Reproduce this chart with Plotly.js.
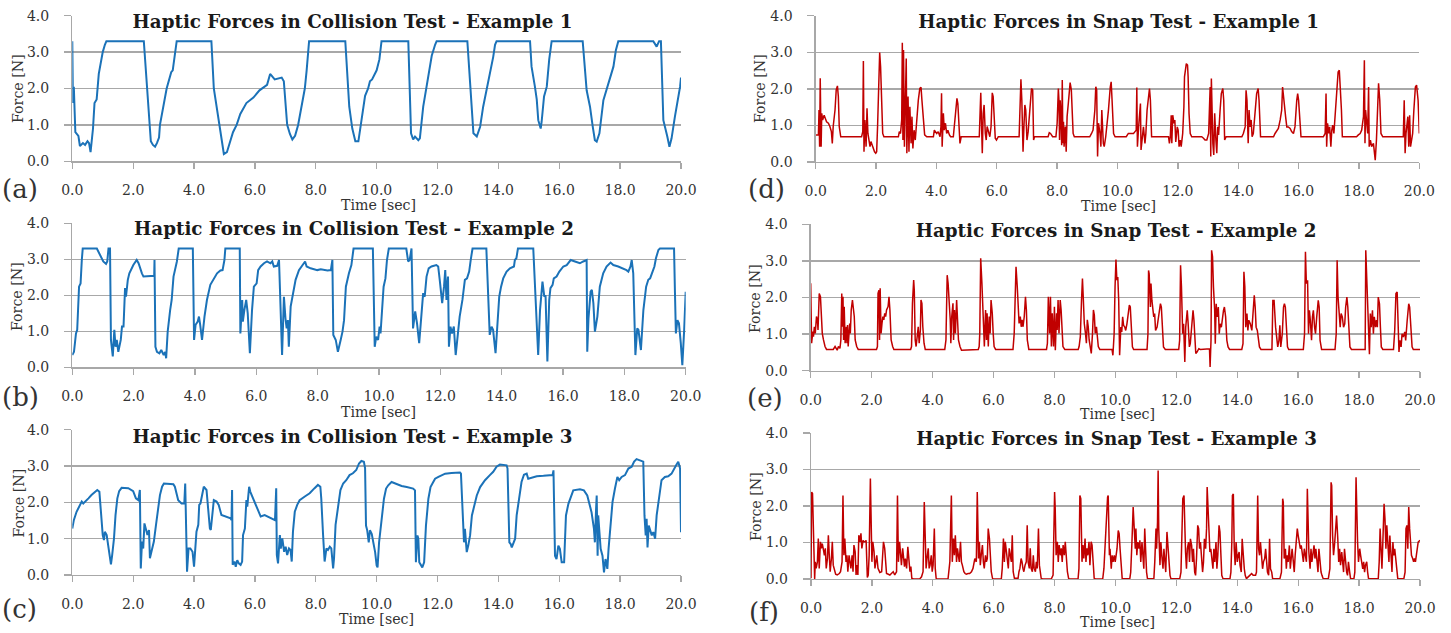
<!DOCTYPE html>
<html>
<head>
<meta charset="utf-8">
<script src="https://cdn.plot.ly/plotly-3.0.1.min.js"></script>
<style>html,body{margin:0;padding:0;background:#fff;}#chart{width:1451px;height:633px;}</style>
</head>
<body>
<div id="chart"></div>
<script>
// ---- tick labels ----
const xTickValues = [0, 2, 4, 6, 8, 10, 12, 14, 16, 18, 20];
const xTickLabels = ['0.0','2.0','4.0','6.0','8.0','10.0','12.0','14.0','16.0','18.0','20.0'];
const yTickValues = [0, 1, 2, 3, 4];
const yTickLabels = ['0.0','1.0','2.0','3.0','4.0'];

// ---- panel texts ----
const panelTitles = [
  'Haptic Forces in Collision Test - Example 1',
  'Haptic Forces in Collision Test - Example 2',
  'Haptic Forces in Collision Test - Example 3',
  'Haptic Forces in Snap Test - Example 1',
  'Haptic Forces in Snap Test - Example 2',
  'Haptic Forces in Snap Test - Example 3'
];
const panelLetters = ['(a)','(b)','(c)','(d)','(e)','(f)'];
const xTitle = 'Time [sec]';
const yTitle = 'Force [N]';

// ---- series: [time (sec), force (N)] ----
const collisionExample1 = [[0,3.3],[0.02,1.6],[0.05,2.05],[0.1,0.8],[0.2,0.7],[0.25,0.42],[0.35,0.5],[0.42,0.45],[0.5,0.55],[0.55,0.5],[0.6,0.25],[0.68,0.9],[0.73,1.6],[0.8,1.7],[0.87,2.4],[0.95,2.85],[1.0,3.0],[1.07,3.2],[1.12,3.3],[2.35,3.3],[2.45,2.0],[2.52,1.3],[2.58,0.55],[2.65,0.45],[2.72,0.4],[2.78,0.5],[2.85,0.65],[2.88,1.0],[3.0,1.5],[3.1,2.0],[3.25,2.45],[3.3,2.5],[3.43,3.3],[4.57,3.3],[4.65,2.0],[4.78,1.3],[4.9,0.6],[4.98,0.2],[5.08,0.25],[5.18,0.55],[5.28,0.8],[5.4,1.0],[5.52,1.3],[5.72,1.6],[5.95,1.75],[6.15,1.95],[6.32,2.05],[6.4,2.1],[6.5,2.4],[6.65,2.25],[6.88,2.3],[6.95,2.2],[7.06,1.0],[7.15,0.75],[7.23,0.6],[7.32,0.7],[7.42,1.0],[7.53,1.5],[7.64,2.0],[7.7,2.5],[7.78,3.3],[8.97,3.3],[9.1,1.5],[9.2,0.9],[9.3,0.55],[9.4,0.55],[9.48,1.0],[9.55,1.4],[9.62,1.8],[9.72,2.0],[9.78,2.2],[9.85,2.25],[10.0,2.5],[10.09,2.8],[10.16,3.3],[11.04,3.3],[11.13,0.77],[11.2,0.6],[11.26,0.68],[11.37,0.58],[11.42,0.63],[11.53,1.5],[11.64,2.05],[11.7,2.4],[11.81,2.9],[11.92,3.2],[11.97,3.3],[12.98,3.3],[13.12,1.3],[13.18,0.77],[13.29,0.68],[13.4,0.95],[13.5,1.5],[13.61,1.95],[13.72,2.35],[13.83,2.87],[13.89,3.2],[13.94,3.3],[15.04,3.3],[15.09,2.6],[15.2,2.05],[15.26,1.7],[15.31,1.13],[15.39,0.9],[15.42,1.08],[15.5,1.78],[15.59,2.05],[15.67,2.8],[15.75,3.3],[16.77,3.3],[16.9,1.95],[17.01,1.5],[17.1,0.95],[17.17,0.58],[17.23,0.54],[17.32,0.77],[17.45,1.68],[17.58,2.05],[17.69,2.33],[17.78,2.6],[17.86,3.05],[17.94,3.3],[19.09,3.3],[19.2,3.15],[19.28,3.3],[19.34,3.3],[19.42,1.13],[19.51,0.86],[19.55,0.68],[19.62,0.4],[19.69,0.63],[19.8,1.23],[19.86,1.5],[19.97,2.05],[20.0,2.3]];

const collisionExample2 = [[0,0.34],[0.055,0.43],[0.12,0.94],[0.16,1.04],[0.22,2.24],[0.27,2.33],[0.31,2.98],[0.34,3.3],[0.8,3.3],[0.9,3.12],[1.01,2.94],[1.1,2.87],[1.14,2.94],[1.18,3.3],[1.23,3.3],[1.26,0.76],[1.32,0.3],[1.37,1.04],[1.41,0.57],[1.45,0.76],[1.5,0.43],[1.58,0.76],[1.62,1.13],[1.67,1.13],[1.72,2.2],[1.75,1.96],[1.81,2.43],[1.86,2.61],[1.91,2.7],[1.99,2.84],[2.1,2.98],[2.16,2.89],[2.27,2.61],[2.32,2.52],[2.67,2.54],[2.68,2.98],[2.71,0.57],[2.76,0.43],[2.84,0.39],[2.9,0.48],[2.98,0.34],[3.03,0.43],[3.06,0.25],[3.11,0.99],[3.19,1.59],[3.24,1.87],[3.3,2.52],[3.36,2.75],[3.41,2.94],[3.47,3.3],[3.93,3.3],[3.97,0.76],[4.02,1.18],[4.09,1.27],[4.13,1.41],[4.17,1.18],[4.23,0.76],[4.31,1.41],[4.39,1.87],[4.5,2.29],[4.61,2.47],[4.72,2.61],[4.83,2.69],[4.9,2.7],[4.96,2.98],[4.99,3.3],[5.46,3.3],[5.48,0.94],[5.54,1.87],[5.56,1.27],[5.61,1.59],[5.67,1.87],[5.72,1.5],[5.79,0.39],[5.86,1.59],[5.92,2.24],[6.01,2.33],[6.06,2.7],[6.14,2.8],[6.25,2.89],[6.35,2.94],[6.46,2.89],[6.52,2.94],[6.57,2.8],[6.68,2.82],[6.74,2.98],[6.84,0.34],[6.9,1.96],[6.95,1.36],[6.99,1.08],[7.03,1.31],[7.06,0.57],[7.12,1.69],[7.2,2.1],[7.28,2.43],[7.39,2.7],[7.5,2.84],[7.59,2.94],[7.64,2.8],[7.77,2.75],[7.99,2.7],[8.1,2.72],[8.32,2.69],[8.43,2.7],[8.48,2.98],[8.51,0.9],[8.59,0.76],[8.66,0.43],[8.75,0.76],[8.81,0.99],[8.86,1.31],[8.92,2.24],[9.02,2.61],[9.1,2.84],[9.17,3.3],[9.8,3.3],[9.86,0.57],[9.91,0.85],[9.97,0.76],[10.02,1.13],[10.05,0.94],[10.11,1.59],[10.15,2.24],[10.21,2.47],[10.26,2.98],[10.32,3.3],[10.89,3.3],[10.95,2.94],[11.0,2.98],[11.06,3.3],[11.11,1.08],[11.18,1.55],[11.24,1.22],[11.31,0.67],[11.38,1.59],[11.44,2.06],[11.49,1.96],[11.55,2.52],[11.62,2.75],[11.71,2.8],[11.87,2.84],[11.93,2.8],[11.98,2.43],[12.06,1.78],[12.12,2.24],[12.16,2.7],[12.2,1.87],[12.25,2.52],[12.28,0.57],[12.33,1.13],[12.38,0.94],[12.44,1.13],[12.5,0.34],[12.58,1.13],[12.63,1.41],[12.72,1.87],[12.8,2.43],[12.87,2.47],[12.94,2.66],[12.99,2.98],[13.05,3.3],[13.5,3.3],[13.56,1.87],[13.61,0.9],[13.67,1.13],[13.72,1.04],[13.8,0.39],[13.85,1.13],[13.92,1.96],[13.98,2.24],[14.05,2.47],[14.16,2.66],[14.27,2.75],[14.4,2.8],[14.43,2.98],[14.48,3.03],[14.53,3.3],[15.03,3.3],[15.19,0.34],[15.25,1.59],[15.33,2.38],[15.39,1.96],[15.43,2.0],[15.49,0.16],[15.55,1.87],[15.59,2.2],[15.66,2.29],[15.7,2.47],[15.79,2.52],[15.88,2.66],[16.01,2.8],[16.12,2.84],[16.25,2.98],[16.39,2.94],[16.55,2.89],[16.66,2.94],[16.77,2.98],[16.79,0.43],[16.83,1.36],[16.9,2.1],[16.94,2.15],[16.99,1.78],[17.04,0.99],[17.12,1.41],[17.2,2.24],[17.31,2.61],[17.42,2.8],[17.55,2.91],[17.64,2.84],[17.8,2.8],[17.97,2.75],[18.07,2.7],[18.13,2.66],[18.2,2.8],[18.24,2.98],[18.29,2.61],[18.36,0.34],[18.42,1.08],[18.46,1.04],[18.54,0.48],[18.62,1.59],[18.71,2.24],[18.78,2.43],[18.84,2.47],[18.92,2.66],[18.98,2.8],[19.03,3.03],[19.11,3.26],[19.16,3.3],[19.62,3.3],[19.65,2.06],[19.68,0.94],[19.73,1.31],[19.78,1.22],[19.84,0.67],[19.89,0.06],[19.95,1.04],[20.0,2.1]];

const collisionExample3 = [[0,1.28],[0.05,1.51],[0.14,1.74],[0.25,1.94],[0.31,2.02],[0.36,1.97],[0.45,2.06],[0.53,2.11],[0.63,2.2],[0.74,2.28],[0.82,2.34],[0.89,2.29],[0.94,1.74],[1.0,1.1],[1.04,0.96],[1.07,1.19],[1.13,1.1],[1.18,0.83],[1.24,0.55],[1.27,0.29],[1.31,0.55],[1.37,1.01],[1.42,1.65],[1.48,2.11],[1.54,2.31],[1.62,2.4],[1.84,2.39],[2.0,2.31],[2.09,2.11],[2.17,2.06],[2.22,2.34],[2.25,0.18],[2.29,0.92],[2.33,0.73],[2.37,1.42],[2.42,1.24],[2.47,1.1],[2.52,1.24],[2.55,0.46],[2.6,0.64],[2.68,0.92],[2.75,1.38],[2.82,1.83],[2.88,2.2],[2.95,2.43],[3.01,2.52],[3.32,2.5],[3.37,2.43],[3.48,2.06],[3.59,1.97],[3.68,1.97],[3.71,2.52],[3.77,0.09],[3.82,0.73],[3.88,0.73],[3.95,0.64],[4.0,0.23],[4.08,1.19],[4.14,1.38],[4.17,1.93],[4.21,1.97],[4.28,2.29],[4.32,2.43],[4.41,2.34],[4.46,1.93],[4.52,1.28],[4.55,1.24],[4.6,1.65],[4.65,2.06],[4.74,2.02],[4.81,1.93],[4.9,1.65],[5.01,1.61],[5.2,1.56],[5.23,1.51],[5.25,2.34],[5.27,0.28],[5.33,0.37],[5.37,0.23],[5.42,0.41],[5.47,0.32],[5.53,0.28],[5.58,0.37],[5.61,1.1],[5.67,1.28],[5.72,2.06],[5.75,1.88],[5.81,2.43],[5.85,2.29],[5.94,2.11],[6.05,1.88],[6.1,1.79],[6.19,1.61],[6.32,1.65],[6.43,1.61],[6.54,1.56],[6.66,1.51],[6.7,2.39],[6.72,0.55],[6.76,0.32],[6.82,1.1],[6.85,0.73],[6.9,1.01],[6.96,0.64],[7.01,0.78],[7.06,0.55],[7.12,0.73],[7.17,0.69],[7.21,0.37],[7.25,1.19],[7.31,1.74],[7.39,1.93],[7.47,2.06],[7.64,2.16],[7.8,2.25],[7.96,2.39],[8.07,2.48],[8.15,2.43],[8.18,2.11],[8.24,1.1],[8.29,0.37],[8.35,0.73],[8.4,0.69],[8.46,0.78],[8.51,0.73],[8.57,0.18],[8.6,0.46],[8.65,1.38],[8.73,1.93],[8.81,2.34],[8.9,2.52],[9.0,2.61],[9.11,2.75],[9.22,2.8],[9.33,2.89],[9.42,3.07],[9.5,3.14],[9.58,3.12],[9.62,2.94],[9.65,1.36],[9.69,1.23],[9.74,0.9],[9.78,1.23],[9.84,1.13],[9.89,0.9],[9.95,0.63],[10.0,0.26],[10.03,0.21],[10.08,0.9],[10.14,1.36],[10.2,1.82],[10.24,2.1],[10.31,2.38],[10.38,2.47],[10.49,2.56],[10.6,2.52],[10.71,2.49],[10.82,2.45],[10.99,2.42],[11.2,2.38],[11.26,2.33],[11.29,0.35],[11.34,1.09],[11.37,1.0],[11.4,0.35],[11.45,0.26],[11.5,0.21],[11.56,0.35],[11.62,1.36],[11.7,2.1],[11.77,2.42],[11.86,2.56],[11.92,2.65],[12.03,2.7],[12.14,2.75],[12.25,2.79],[12.46,2.81],[12.74,2.82],[12.77,2.79],[12.83,1.36],[12.87,0.9],[12.9,1.27],[12.96,0.63],[13.01,0.81],[13.07,1.09],[13.13,1.64],[13.2,1.92],[13.29,2.19],[13.4,2.42],[13.56,2.61],[13.72,2.75],[13.83,2.84],[13.94,2.98],[14.05,3.04],[14.27,3.02],[14.3,2.93],[14.36,0.9],[14.4,0.86],[14.44,0.76],[14.49,0.9],[14.55,1.0],[14.6,1.64],[14.69,2.19],[14.76,2.56],[14.84,2.76],[14.93,2.79],[14.98,2.65],[15.09,2.68],[15.26,2.72],[15.48,2.73],[15.64,2.75],[15.78,2.75],[15.81,2.88],[15.86,0.53],[15.91,0.44],[15.97,0.81],[16.02,0.72],[16.08,0.35],[16.16,0.35],[16.22,1.64],[16.3,1.96],[16.37,2.1],[16.46,2.33],[16.68,2.36],[16.81,2.33],[16.92,2.19],[16.99,1.92],[17.06,1.73],[17.14,1.27],[17.17,0.9],[17.21,1.82],[17.23,2.19],[17.26,0.53],[17.28,1.64],[17.32,1.18],[17.36,0.72],[17.42,0.53],[17.47,0.07],[17.52,0.44],[17.58,0.17],[17.62,0.72],[17.69,1.36],[17.75,2.01],[17.83,2.38],[17.91,2.7],[17.97,2.61],[18.05,2.7],[18.16,2.75],[18.27,2.93],[18.38,2.98],[18.46,3.12],[18.54,3.19],[18.67,3.16],[18.76,3.12],[18.8,1.64],[18.84,1.09],[18.87,1.55],[18.9,0.76],[18.94,1.36],[18.98,1.27],[19.04,1.09],[19.09,1.18],[19.15,1.0],[19.2,1.64],[19.26,2.06],[19.36,2.61],[19.47,2.7],[19.58,2.72],[19.69,2.79],[19.77,2.93],[19.84,3.02],[19.91,3.12],[19.97,2.93],[20.0,1.18]];

const snapExample1 = [[0,0.74],[0.09,0.74],[0.11,1.42],[0.13,0.42],[0.15,2.29],[0.18,0.42],[0.2,1.33],[0.23,1.15],[0.28,1.28],[0.32,1.15],[0.36,1.1],[0.42,1.06],[0.47,0.97],[0.52,0.83],[0.55,0.51],[0.58,0.97],[0.64,1.42],[0.68,1.97],[0.72,2.08],[0.75,1.79],[0.78,0.97],[0.83,0.69],[1.52,0.69],[1.56,0.83],[1.58,2.76],[1.6,0.28],[1.63,1.15],[1.67,0.42],[1.7,1.47],[1.73,0.78],[1.77,0.51],[1.8,0.42],[1.83,0.56],[1.88,0.42],[1.91,0.33],[1.95,0.28],[1.99,0.24],[2.02,0.28],[2.05,0.97],[2.09,2.6],[2.12,2.99],[2.15,2.6],[2.19,1.42],[2.22,0.78],[2.26,0.69],[2.74,0.69],[2.77,0.83],[2.81,0.78],[2.85,1.15],[2.87,3.26],[2.89,0.6],[2.91,3.06],[2.94,0.42],[2.97,1.69],[3.0,2.83],[3.02,0.24],[3.06,1.79],[3.09,0.28],[3.12,1.51],[3.16,0.51],[3.19,1.24],[3.22,0.37],[3.26,0.87],[3.3,0.6],[3.34,1.15],[3.4,1.69],[3.45,2.01],[3.49,2.04],[3.52,1.69],[3.57,0.97],[3.61,0.74],[3.68,0.69],[3.9,0.69],[3.93,0.87],[3.97,0.83],[4.01,0.78],[4.06,0.83],[4.12,0.69],[4.15,0.97],[4.17,1.88],[4.19,0.42],[4.23,1.33],[4.26,0.87],[4.3,1.06],[4.34,0.78],[4.38,0.87],[4.43,0.74],[4.47,0.69],[4.56,0.69],[4.59,0.97],[4.64,1.51],[4.68,1.74],[4.71,1.6],[4.75,0.97],[4.78,0.51],[4.82,0.69],[5.42,0.69],[5.45,1.42],[5.47,1.89],[5.5,0.87],[5.52,0.24],[5.55,1.33],[5.58,1.56],[5.62,0.78],[5.65,0.6],[5.68,0.97],[5.72,0.83],[5.77,0.69],[5.81,0.97],[5.85,1.89],[5.88,1.79],[5.92,0.97],[5.95,0.65],[5.99,0.6],[6.05,0.69],[6.74,0.69],[6.76,1.15],[6.8,2.26],[6.83,1.69],[6.87,0.28],[6.9,0.97],[6.93,1.56],[6.96,1.42],[7.0,0.6],[7.04,0.83],[7.1,1.42],[7.15,2.01],[7.19,1.97],[7.22,0.6],[7.25,0.69],[7.7,0.69],[7.74,0.8],[7.78,0.78],[7.85,0.69],[7.96,0.69],[8.0,1.06],[8.04,2.01],[8.06,1.69],[8.08,0.6],[8.1,1.69],[8.12,1.42],[8.15,0.46],[8.17,2.24],[8.19,0.51],[8.21,1.1],[8.23,0.42],[8.27,0.97],[8.3,0.28],[8.33,1.24],[8.37,1.6],[8.4,1.97],[8.43,2.17],[8.47,1.97],[8.5,1.42],[8.53,0.78],[8.57,0.69],[9.08,0.69],[9.14,0.78],[9.19,0.87],[9.25,1.42],[9.28,2.06],[9.31,1.97],[9.34,0.15],[9.37,1.06],[9.42,0.78],[9.45,0.42],[9.48,1.42],[9.53,0.51],[9.56,0.42],[9.61,0.69],[9.65,0.96],[9.7,1.42],[9.76,2.05],[9.79,2.19],[9.82,1.69],[9.87,0.78],[9.92,0.69],[10.29,0.69],[10.36,0.78],[10.53,0.78],[10.58,0.83],[10.62,0.87],[10.64,2.04],[10.66,0.42],[10.7,0.96],[10.73,1.24],[10.76,1.6],[10.78,0.33],[10.82,0.78],[10.86,0.96],[10.91,0.51],[10.94,0.78],[10.98,1.42],[11.03,1.92],[11.06,2.01],[11.09,1.69],[11.13,0.69],[11.69,0.69],[11.72,0.51],[11.75,0.69],[11.78,1.28],[11.8,0.51],[11.83,1.28],[11.87,1.06],[11.9,1.15],[11.93,0.55],[11.98,0.96],[12.01,0.87],[12.04,0.42],[12.08,0.6],[12.11,0.42],[12.16,0.78],[12.2,1.51],[12.22,2.33],[12.25,2.46],[12.28,2.69],[12.32,2.65],[12.34,2.33],[12.37,1.33],[12.41,0.78],[12.46,0.69],[12.79,0.69],[12.85,0.65],[12.9,0.6],[12.96,0.6],[12.99,0.74],[13.02,0.78],[13.07,2.05],[13.09,0.15],[13.11,2.28],[13.13,1.42],[13.16,0.51],[13.19,0.19],[13.22,1.33],[13.26,0.6],[13.29,0.24],[13.32,0.96],[13.35,0.74],[13.4,1.42],[13.44,1.87],[13.49,2.01],[13.52,1.69],[13.55,0.6],[13.6,0.69],[14.12,0.69],[14.17,0.78],[14.23,0.96],[14.26,1.96],[14.29,1.69],[14.33,0.51],[14.36,1.42],[14.39,0.96],[14.43,1.15],[14.46,0.69],[14.5,0.78],[14.56,1.42],[14.61,1.87],[14.66,2.01],[14.69,1.69],[14.74,0.69],[15.17,0.69],[15.22,0.78],[15.28,0.87],[15.33,0.92],[15.39,1.15],[15.44,1.42],[15.47,2.05],[15.51,1.78],[15.54,1.6],[15.57,1.24],[15.61,0.96],[15.66,0.96],[15.72,0.92],[15.77,0.83],[15.83,0.78],[15.88,0.96],[15.94,1.69],[15.97,1.87],[16.0,1.69],[16.05,0.96],[16.08,0.69],[16.82,0.69],[16.88,0.78],[16.91,1.87],[16.93,0.42],[16.96,1.06],[17.0,0.78],[17.03,0.96],[17.07,0.42],[17.1,0.87],[17.13,1.01],[17.17,0.78],[17.22,1.42],[17.26,2.05],[17.31,2.46],[17.35,2.51],[17.38,2.15],[17.42,1.42],[17.45,0.69],[17.92,0.69],[17.98,0.74],[18.04,0.78],[18.09,0.87],[18.15,1.24],[18.18,2.78],[18.2,0.51],[18.22,1.42],[18.26,0.96],[18.29,0.78],[18.32,2.05],[18.34,0.42],[18.38,0.6],[18.42,0.42],[18.48,0.51],[18.51,0.15],[18.54,0.05],[18.58,0.6],[18.62,1.42],[18.65,2.15],[18.69,1.69],[18.73,0.78],[18.79,0.69],[19.47,0.69],[19.5,1.69],[19.53,0.24],[19.56,0.78],[19.59,0.96],[19.62,1.24],[19.65,0.42],[19.68,1.28],[19.71,0.42],[19.75,0.69],[19.78,0.78],[19.82,1.42],[19.87,2.05],[19.91,2.1],[19.96,1.69],[20.0,0.78]];

const snapExample2 = [[0,2.39],[0.03,0.75],[0.07,1.07],[0.09,0.93],[0.12,1.2],[0.15,1.02],[0.19,1.48],[0.22,1.39],[0.24,1.11],[0.26,1.84],[0.28,2.11],[0.32,2.02],[0.35,1.66],[0.38,1.02],[0.42,0.84],[0.47,0.66],[0.52,0.58],[0.74,0.58],[0.8,0.66],[0.85,0.61],[0.87,0.56],[0.91,0.66],[0.96,0.61],[0.99,0.84],[1.02,2.11],[1.04,1.2],[1.06,2.02],[1.08,0.84],[1.1,1.75],[1.13,0.75],[1.15,1.02],[1.17,1.2],[1.19,0.75],[1.21,1.25],[1.23,0.66],[1.26,1.11],[1.28,1.29],[1.3,1.02],[1.33,1.66],[1.37,1.93],[1.4,1.66],[1.43,1.48],[1.46,0.84],[1.51,0.66],[1.56,0.58],[2.16,0.58],[2.19,0.66],[2.21,2.11],[2.24,2.2],[2.26,0.84],[2.28,2.25],[2.31,1.02],[2.34,1.29],[2.37,1.48],[2.4,1.39],[2.43,1.57],[2.46,1.48],[2.49,1.66],[2.54,1.75],[2.57,2.02],[2.6,1.66],[2.64,0.84],[2.69,0.66],[2.73,0.58],[3.28,0.58],[3.31,0.66],[3.34,1.84],[3.38,2.48],[3.4,2.2],[3.43,0.84],[3.46,0.66],[3.5,1.02],[3.53,1.2],[3.56,0.75],[3.6,1.11],[3.62,1.93],[3.65,1.84],[3.68,1.2],[3.72,0.75],[3.76,0.58],[4.4,0.58],[4.44,0.84],[4.46,1.75],[4.48,2.61],[4.51,2.39],[4.55,1.93],[4.58,1.39],[4.6,0.75],[4.63,1.48],[4.67,1.84],[4.69,0.84],[4.72,1.66],[4.75,1.02],[4.79,1.93],[4.82,1.2],[4.85,0.84],[4.9,0.66],[4.95,0.56],[5.5,0.58],[5.53,0.66],[5.55,1.02],[5.58,3.07],[5.62,2.39],[5.65,1.66],[5.67,1.02],[5.7,0.66],[5.74,1.66],[5.77,0.84],[5.79,1.57],[5.83,0.66],[5.86,1.48],[5.89,1.02],[5.92,1.93],[5.96,1.57],[5.99,1.02],[6.02,0.66],[6.07,0.58],[6.64,0.58],[6.68,1.02],[6.71,1.84],[6.74,2.84],[6.78,2.3],[6.81,1.84],[6.84,1.29],[6.88,1.48],[6.91,1.2],[6.94,1.39],[6.97,1.2],[7.01,1.48],[7.05,2.02],[7.08,1.66],[7.11,0.84],[7.16,0.58],[7.74,0.58],[7.77,0.75],[7.8,2.02],[7.84,1.02],[7.87,2.02],[7.9,0.66],[7.93,1.57],[7.97,0.66],[8.0,1.75],[8.03,0.56],[8.07,1.57],[8.09,1.11],[8.12,1.93],[8.15,1.02],[8.19,1.93],[8.22,1.66],[8.25,0.84],[8.28,0.66],[8.34,0.58],[8.78,0.58],[8.81,0.66],[8.85,0.93],[8.89,1.93],[8.92,2.52],[8.95,1.93],[8.98,1.29],[9.02,1.02],[9.05,0.75],[9.08,1.39],[9.11,1.2],[9.14,0.84],[9.21,0.47],[9.25,1.02],[9.28,1.66],[9.31,1.52],[9.34,1.02],[9.38,1.2],[9.41,0.84],[9.44,0.66],[9.49,0.58],[9.89,0.58],[9.92,0.42],[9.96,1.01],[9.99,2.29],[10.02,3.04],[10.05,2.47],[10.08,2.56],[10.11,1.92],[10.14,0.42],[10.18,1.19],[10.21,1.06],[10.24,1.47],[10.27,1.24],[10.31,1.19],[10.34,1.1],[10.38,1.28],[10.43,1.56],[10.46,1.79],[10.49,1.74],[10.52,1.19],[10.56,0.65],[10.6,0.58],[11.04,0.58],[11.07,1.01],[11.09,2.74],[11.11,2.65],[11.15,1.74],[11.17,2.38],[11.2,1.92],[11.23,1.65],[11.26,1.47],[11.29,1.56],[11.32,1.1],[11.37,1.19],[11.42,1.56],[11.48,1.83],[11.51,1.74],[11.54,1.19],[11.58,0.65],[11.64,0.58],[12.08,0.58],[12.11,0.83],[12.14,2.88],[12.17,2.29],[12.21,1.01],[12.24,1.28],[12.28,0.24],[12.31,1.19],[12.33,1.38],[12.36,1.65],[12.39,1.28],[12.43,0.65],[12.46,0.74],[12.51,1.38],[12.55,1.65],[12.58,1.38],[12.61,0.74],[12.64,0.47],[12.68,0.51],[12.74,0.6],[12.79,0.58],[13.06,0.58],[13.09,0.6],[13.11,0.1],[13.14,0.83],[13.16,3.29],[13.19,3.11],[13.22,2.29],[13.26,1.65],[13.28,0.74],[13.31,1.83],[13.34,1.47],[13.38,1.74],[13.41,1.01],[13.44,1.28],[13.48,1.19],[13.51,1.47],[13.55,1.65],[13.58,1.74],[13.62,1.47],[13.66,0.83],[13.7,0.65],[13.75,0.58],[14.15,0.58],[14.19,0.74],[14.22,2.7],[14.25,2.29],[14.28,1.19],[14.32,1.56],[14.35,1.1],[14.38,1.38],[14.43,1.28],[14.48,1.1],[14.51,1.38],[14.56,2.06],[14.59,1.74],[14.62,1.19],[14.66,1.1],[14.69,0.83],[14.73,0.65],[14.78,0.58],[15.14,0.58],[15.17,1.92],[15.21,1.92],[15.26,1.19],[15.3,0.92],[15.33,0.65],[15.37,0.83],[15.4,1.24],[15.43,0.65],[15.48,1.01],[15.52,1.74],[15.55,1.83],[15.58,1.74],[15.62,1.19],[15.65,0.65],[15.69,0.58],[16.17,0.58],[16.21,1.01],[16.24,3.25],[16.27,2.38],[16.31,2.47],[16.34,1.01],[16.37,1.65],[16.4,1.38],[16.44,0.83],[16.47,1.47],[16.5,1.65],[16.54,1.19],[16.57,1.01],[16.61,1.47],[16.66,1.92],[16.69,1.74],[16.72,0.83],[16.77,0.58],[17.21,0.58],[17.25,1.01],[17.28,3.02],[17.31,2.01],[17.35,1.38],[17.38,1.19],[17.41,1.56],[17.45,1.47],[17.49,1.19],[17.53,1.28],[17.56,1.74],[17.6,2.01],[17.63,1.74],[17.66,1.19],[17.7,0.65],[17.75,0.58],[18.2,0.58],[18.22,3.29],[18.25,2.47],[18.27,1.92],[18.31,1.01],[18.34,0.45],[18.37,1.56],[18.4,1.19],[18.44,1.65],[18.47,1.01],[18.5,1.47],[18.54,1.19],[18.57,1.38],[18.6,1.19],[18.63,2.01],[18.67,1.83],[18.7,1.19],[18.73,0.65],[18.78,0.58],[19.13,0.58],[19.17,1.1],[19.21,2.11],[19.25,2.15],[19.28,1.47],[19.31,0.51],[19.34,0.83],[19.38,0.65],[19.41,1.01],[19.45,0.92],[19.5,1.06],[19.53,0.83],[19.58,1.38],[19.63,1.83],[19.66,1.74],[19.69,1.19],[19.74,0.65],[19.78,0.58],[20.0,0.58]];

const snapExample3 = [[0,0.02],[0.02,2.38],[0.05,2.34],[0.08,1.38],[0.1,0.29],[0.12,0.0],[0.14,0.47],[0.17,0.29],[0.21,0.47],[0.24,1.11],[0.27,0.29],[0.31,1.02],[0.34,0.84],[0.37,0.97],[0.4,0.84],[0.44,0.65],[0.47,0.84],[0.5,0.29],[0.54,0.56],[0.57,1.2],[0.6,0.65],[0.63,0.2],[0.67,0.56],[0.7,1.02],[0.73,0.38],[0.77,0.2],[0.81,0.13],[0.86,0.11],[0.93,0.15],[0.97,0.2],[1.02,0.47],[1.05,2.29],[1.08,0.65],[1.11,1.11],[1.15,0.47],[1.18,0.65],[1.21,0.2],[1.25,0.65],[1.28,0.38],[1.31,0.29],[1.35,0.65],[1.38,0.2],[1.41,0.93],[1.45,0.75],[1.48,0.11],[1.51,0.38],[1.54,0.11],[1.57,1.2],[1.61,1.02],[1.64,1.25],[1.67,0.84],[1.71,1.06],[1.74,1.02],[1.78,1.02],[1.81,1.06],[1.85,0.04],[1.88,0.11],[1.91,0.65],[1.95,2.75],[1.97,1.75],[2.0,0.47],[2.03,1.02],[2.07,0.75],[2.1,0.29],[2.13,0.47],[2.16,0.65],[2.2,0.29],[2.23,0.2],[2.26,0.18],[2.32,0.2],[2.35,0.65],[2.38,1.02],[2.42,0.84],[2.45,0.29],[2.48,0.15],[2.54,0.13],[2.59,0.11],[2.64,0.15],[2.7,0.2],[2.75,0.11],[2.81,0.2],[2.84,2.29],[2.87,0.47],[2.91,1.02],[2.94,0.75],[2.97,0.38],[3.01,0.84],[3.04,0.47],[3.07,0.34],[3.1,0.56],[3.14,0.29],[3.18,0.88],[3.21,0.47],[3.25,0.2],[3.28,0.34],[3.31,0.02],[3.36,0.0],[3.57,0.0],[3.63,0.06],[3.68,0.2],[3.72,2.11],[3.75,0.65],[3.78,0.29],[3.81,0.56],[3.85,0.84],[3.88,0.29],[3.91,0.38],[3.95,0.65],[3.98,0.2],[4.01,0.38],[4.05,1.38],[4.08,0.29],[4.11,0.02],[4.14,0.0],[4.5,0.0],[4.56,0.47],[4.61,2.29],[4.64,0.47],[4.68,1.11],[4.71,0.65],[4.74,1.2],[4.78,0.47],[4.81,0.84],[4.84,0.65],[4.87,0.47],[4.91,1.02],[4.94,0.47],[4.97,0.38],[5.02,0.2],[5.06,0.15],[5.1,0.13],[5.16,0.15],[5.21,0.15],[5.27,0.2],[5.32,0.29],[5.38,0.56],[5.43,0.47],[5.46,2.38],[5.5,0.56],[5.53,1.02],[5.56,0.38],[5.59,0.65],[5.63,0.93],[5.66,0.47],[5.69,0.29],[5.73,0.65],[5.76,0.47],[5.79,0.56],[5.82,1.38],[5.86,1.11],[5.89,0.47],[5.92,0.2],[5.96,0.02],[5.98,0.0],[6.25,0.0],[6.28,0.29],[6.32,1.11],[6.35,0.47],[6.38,1.02],[6.42,0.65],[6.45,0.56],[6.48,0.29],[6.51,0.84],[6.54,0.65],[6.58,0.47],[6.61,1.2],[6.64,0.2],[6.68,0.02],[6.8,0.02],[6.83,0.2],[6.86,0.29],[6.9,0.56],[6.93,0.47],[6.96,0.29],[6.99,0.2],[7.03,0.38],[7.07,0.47],[7.1,1.47],[7.13,0.47],[7.17,0.29],[7.2,0.84],[7.23,0.29],[7.27,0.2],[7.3,0.65],[7.33,0.29],[7.37,0.2],[7.4,0.47],[7.43,0.29],[7.47,1.38],[7.5,0.38],[7.53,0.2],[7.56,0.02],[7.6,0.0],[7.89,0.0],[7.95,0.11],[7.98,1.29],[8.0,2.38],[8.02,1.93],[8.05,0.65],[8.09,1.02],[8.12,0.47],[8.15,0.93],[8.19,0.65],[8.22,0.84],[8.25,0.47],[8.28,0.93],[8.32,0.65],[8.35,1.02],[8.39,0.47],[8.42,0.2],[8.46,0.02],[8.49,0.0],[8.77,0.0],[8.8,0.29],[8.83,2.29],[8.86,2.2],[8.9,0.47],[8.93,0.93],[8.96,0.56],[9.0,1.11],[9.03,0.47],[9.06,0.84],[9.09,0.65],[9.13,1.02],[9.16,0.38],[9.2,1.02],[9.23,0.93],[9.27,0.29],[9.3,0.02],[9.34,0.0],[9.58,0.0],[9.62,0.29],[9.65,0.83],[9.68,1.47],[9.7,1.92],[9.74,2.24],[9.76,2.29],[9.78,1.38],[9.8,0.65],[9.82,0.83],[9.86,0.28],[9.89,0.65],[9.92,0.47],[9.96,0.65],[9.99,0.47],[10.02,0.65],[10.05,0.83],[10.09,1.33],[10.12,1.24],[10.15,0.83],[10.19,0.19],[10.22,0.01],[10.47,0.01],[10.5,0.19],[10.54,1.01],[10.56,1.92],[10.58,1.97],[10.61,1.47],[10.65,0.83],[10.67,1.38],[10.7,0.65],[10.73,1.01],[10.77,0.83],[10.8,1.06],[10.83,0.47],[10.87,1.01],[10.9,0.65],[10.93,0.28],[10.96,1.38],[10.99,0.65],[11.02,0.19],[11.05,0.01],[11.26,0.01],[11.29,0.47],[11.33,1.38],[11.35,0.83],[11.38,1.56],[11.4,2.97],[11.42,1.38],[11.46,0.38],[11.49,1.01],[11.52,0.65],[11.56,0.28],[11.59,0.83],[11.62,0.47],[11.65,0.19],[11.69,1.29],[11.72,0.83],[11.75,0.47],[11.79,0.1],[11.82,0.01],[12.11,0.01],[12.15,0.19],[12.18,0.92],[12.21,2.2],[12.25,2.29],[12.27,1.29],[12.3,0.74],[12.33,0.28],[12.36,0.83],[12.4,1.01],[12.43,0.47],[12.46,1.1],[12.5,0.92],[12.53,0.47],[12.56,0.83],[12.6,0.19],[12.63,0.1],[12.66,0.56],[12.7,1.47],[12.73,1.38],[12.76,0.83],[12.79,1.01],[12.83,0.65],[12.86,0.19],[12.89,0.47],[12.92,1.1],[12.96,0.83],[12.99,1.38],[13.01,2.52],[13.03,2.11],[13.07,1.19],[13.1,0.74],[13.13,0.83],[13.17,0.47],[13.2,0.28],[13.23,0.83],[13.26,0.47],[13.3,1.01],[13.33,0.28],[13.36,0.65],[13.4,1.47],[13.43,1.29],[13.46,0.47],[13.49,0.1],[13.53,0.01],[13.76,0.01],[13.79,0.19],[13.82,1.01],[13.84,2.29],[13.87,2.33],[13.9,0.83],[13.93,0.38],[13.96,1.01],[14.0,0.47],[14.03,0.65],[14.06,0.74],[14.09,0.38],[14.13,0.19],[14.16,1.1],[14.19,0.65],[14.23,0.28],[14.26,0.1],[14.3,0.01],[14.41,0.1],[14.47,0.15],[14.52,0.1],[14.6,0.1],[14.63,0.19],[14.67,2.29],[14.7,0.83],[14.73,0.65],[14.76,1.01],[14.8,0.47],[14.83,0.28],[14.86,0.47],[14.9,0.56],[14.93,0.83],[14.96,0.47],[14.99,0.19],[15.03,0.1],[15.06,1.1],[15.09,0.28],[15.13,0.19],[15.16,0.01],[15.4,0.01],[15.45,0.19],[15.49,2.2],[15.51,2.11],[15.54,0.56],[15.58,0.83],[15.61,0.28],[15.64,0.65],[15.67,0.47],[15.71,0.92],[15.74,0.28],[15.77,0.65],[15.8,0.83],[15.84,0.47],[15.87,0.19],[15.9,0.65],[15.94,1.01],[15.97,1.38],[16.0,1.19],[16.04,1.01],[16.07,0.83],[16.1,0.92],[16.13,0.65],[16.17,0.47],[16.2,0.83],[16.23,0.65],[16.27,0.47],[16.3,2.47],[16.32,1.74],[16.35,0.74],[16.39,0.28],[16.42,0.83],[16.45,0.47],[16.48,0.65],[16.52,0.92],[16.55,0.56],[16.58,0.83],[16.62,0.47],[16.65,0.19],[16.68,0.83],[16.71,0.47],[16.75,0.19],[16.78,0.1],[16.82,0.01],[16.99,0.01],[17.04,0.28],[17.08,2.65],[17.1,2.56],[17.13,1.19],[17.16,0.65],[17.2,1.01],[17.23,1.38],[17.26,1.74],[17.3,1.1],[17.33,0.47],[17.36,0.83],[17.39,0.38],[17.43,0.74],[17.46,0.47],[17.49,0.19],[17.52,0.83],[17.55,0.47],[17.59,0.19],[17.62,0.1],[17.65,0.47],[17.69,0.19],[17.72,0.01],[17.83,0.01],[17.86,0.19],[17.9,2.79],[17.92,1.92],[17.95,1.01],[17.98,0.47],[18.02,0.83],[18.05,0.65],[18.08,0.47],[18.12,0.28],[18.15,0.47],[18.18,0.19],[18.21,0.38],[18.25,0.47],[18.28,0.19],[18.31,0.01],[18.63,0.01],[18.66,0.47],[18.69,1.38],[18.72,0.65],[18.75,0.28],[18.78,1.01],[18.82,2.06],[18.85,1.65],[18.88,0.83],[18.91,1.47],[18.95,1.01],[18.98,0.47],[19.01,1.19],[19.04,0.83],[19.08,0.19],[19.11,1.01],[19.14,0.65],[19.17,0.83],[19.21,0.47],[19.24,0.1],[19.27,0.01],[19.47,0.01],[19.51,0.19],[19.54,1.38],[19.57,1.47],[19.6,0.83],[19.63,1.97],[19.66,1.38],[19.69,1.01],[19.72,0.65],[19.76,0.56],[19.79,0.47],[19.82,0.56],[19.85,0.47],[19.88,0.65],[19.91,0.83],[19.94,1.01],[20.0,1.06]];

const seriesList = [collisionExample1, collisionExample2, collisionExample3, snapExample1, snapExample2, snapExample3];
const seriesColors = ['#1b72b8','#1b72b8','#1b72b8','#c00000','#c00000','#c00000'];

// ---- layout geometry (pixels in a 1451 x 633 page) ----
const W = 1451, H = 633;
// [left, right, top, bottom] of each plot area
const boxes = [
  [72.3, 681.0, 15.7, 161.3],
  [72.3, 685.7, 223.3, 367.3],
  [72.3, 681.0, 429.7, 575.0],
  [815.7, 1419.3, 15.7, 162.0],
  [810.7, 1420.0, 224.3, 370.7],
  [811.0, 1420.0, 433.0, 579.0]
];
// title: [centerX, centerY, boxWidth]
const titlePos = [[352.5,22,451],[353.5,228.5,452],[352,436,451],[1118,21.5,419],[1115.5,230,414],[1116,438.5,415]];
const letterPos = [[20,189],[20.5,397],[19,609],[766.7,189],[765,398],[764,611.7]];
const xTitlePos = [[378,205],[378,412],[376,619],[1118,206],[1117,414],[1117,622]];
const yTitlePos = [[18,89],[17,297],[18.5,503],[760,89],[755,298],[756,507]];

const px = x => x / W;
const py = y => 1 - y / H;

const serif = 'DejaVu Serif, serif';
const gridGray = '#a8a8a8';
const textColor = '#333333';

const traces = [];
const layout = {
  width: W, height: H,
  margin: {l: 0, r: 0, t: 0, b: 0},
  paper_bgcolor: '#ffffff',
  plot_bgcolor: '#ffffff',
  showlegend: false,
  annotations: []
};

seriesList.forEach((s, i) => {
  const n = i === 0 ? '' : String(i + 1);
  traces.push({
    type: 'scatter', mode: 'lines',
    x: s.map(p => p[0]), y: s.map(p => p[1]),
    xaxis: 'x' + n, yaxis: 'y' + n,
    line: {color: seriesColors[i], width: i < 3 ? 2 : 1.5},
    hoverinfo: 'skip'
  });
  const b = boxes[i];
  layout['xaxis' + n] = {
    domain: [px(b[0]), px(b[1])],
    anchor: 'y' + n,
    range: [0, 20],
    tickvals: xTickValues, ticktext: xTickLabels,
    showgrid: false, zeroline: false,
    showline: true, linecolor: gridGray, linewidth: 1.3,
    ticks: 'outside', ticklen: 6, tickcolor: gridGray, tickwidth: 1.3,
    ticklabelstandoff: 10,
    tickfont: {family: serif, size: 14, color: textColor},
    fixedrange: true
  };
  layout['yaxis' + n] = {
    domain: [py(b[3]), py(b[2])],
    anchor: 'x' + n,
    range: [0, 4],
    tickvals: yTickValues, ticktext: yTickLabels,
    showgrid: true, gridcolor: gridGray, gridwidth: 1.3,
    zeroline: false,
    showline: true, linecolor: gridGray, linewidth: 1.3,
    ticks: 'outside', ticklen: 7, tickcolor: gridGray, tickwidth: 1.3,
    ticklabelstandoff: 12,
    tickfont: {family: serif, size: 14, color: textColor},
    fixedrange: true
  };
  const t = titlePos[i];
  layout.annotations.push({
    text: panelTitles[i], xref: 'paper', yref: 'paper',
    x: px(t[0]), y: py(t[1]), xanchor: 'center', yanchor: 'middle',
    showarrow: false, bgcolor: '#ffffff', width: t[2], borderpad: 1,
    font: {family: serif, size: 18.3, weight: 'bold', color: '#1a1a1a'}
  });
  const l = letterPos[i];
  layout.annotations.push({
    text: panelLetters[i], xref: 'paper', yref: 'paper',
    x: px(l[0]), y: py(l[1]), xanchor: 'center', yanchor: 'middle',
    showarrow: false,
    font: {family: serif, size: 26, color: textColor}
  });
  const xt = xTitlePos[i];
  layout.annotations.push({
    text: xTitle, xref: 'paper', yref: 'paper',
    x: px(xt[0]), y: py(xt[1]), xanchor: 'center', yanchor: 'middle',
    showarrow: false,
    font: {family: serif, size: 14.2, color: textColor}
  });
  const yt = yTitlePos[i];
  layout.annotations.push({
    text: yTitle, xref: 'paper', yref: 'paper',
    x: px(yt[0]), y: py(yt[1]), xanchor: 'center', yanchor: 'middle',
    textangle: -90, showarrow: false,
    font: {family: serif, size: 14.2, color: textColor}
  });
});

Plotly.newPlot('chart', traces, layout, {staticPlot: true, displayModeBar: false});
</script>
</body>
</html>
